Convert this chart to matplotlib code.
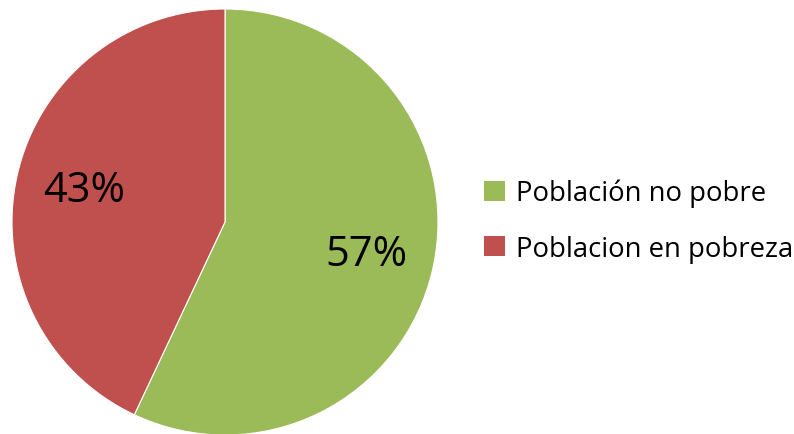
import matplotlib
matplotlib.use("Agg")
import matplotlib.pyplot as plt
from matplotlib.patches import Patch

labels = ["Población no pobre", "Poblacion en pobreza"]
values = [57, 43]
colors = ["#9BBB59", "#C0504D"]

plt.rcParams['font.family'] = ['Open Sans', 'DejaVu Sans']

W, H = 794, 435
fig = plt.figure(figsize=(W / 100, H / 100), dpi=100)
cx, cy, r = 225, 223, 213
ax = fig.add_axes([(cx - r) / W, (H - cy - r) / H, 2 * r / W, 2 * r / H])
wedges, texts, autotexts = ax.pie(
    values, colors=colors, startangle=90, counterclock=False,
    autopct='%1.0f%%', pctdistance=0.68, radius=1,
    wedgeprops=dict(edgecolor='white', linewidth=0.8),
    textprops=dict(fontsize=30, color='black'))
for w in wedges:
    w.set_clip_on(False)
ax.set_xlim(-1, 1)
ax.set_ylim(-1, 1)
ax.set_aspect('equal')
ax.axis('off')

handles = [Patch(facecolor=c, edgecolor='none') for c in colors]
fig.legend(handles, labels, loc='center left', bbox_to_anchor=(484 / W, 1 - 222 / H),
           frameon=False, fontsize=19.8, handlelength=0.75, handleheight=0.75,
           handletextpad=0.4, labelspacing=1.0, borderaxespad=0, borderpad=0)

fig.savefig("out.png", dpi=100)
